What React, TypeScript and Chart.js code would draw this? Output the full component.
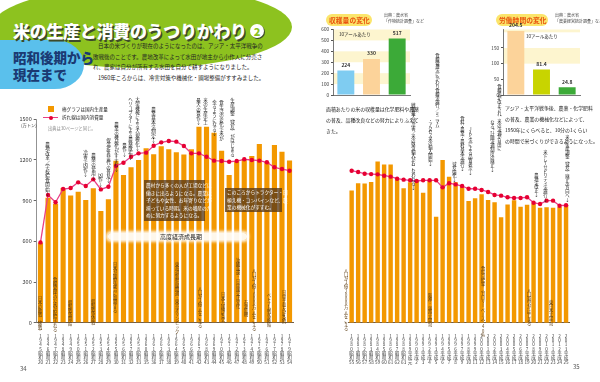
import React, { useEffect, useRef } from "react";
import { Chart, registerables } from "chart.js";
Chart.register(...registerables);

const JP = "'Noto Sans CJK JP', 'Noto Sans', sans-serif";
Chart.defaults.font.family = JP;

// ---- main chart data (万トン) ----
const leftYears = [1945, 1946, 1947, 1948, 1949, 1950, 1951, 1952, 1953, 1954, 1955, 1956, 1957, 1958, 1960, 1961, 1962, 1963, 1964, 1965, 1966, 1967, 1968, 1969, 1970, 1971, 1972, 1973, 1974, 1975, 1976, 1977, 1978, 1979];
const leftProduction = [587, 921, 877, 993, 938, 966, 905, 991, 824, 910, 1195, 1089, 1146, 1200, 1286, 1243, 1302, 1279, 1257, 1241, 1280, 1445, 1445, 1400, 1268, 1089, 1189, 1206, 1229, 1317, 1183, 1310, 1260, 1196];
const leftConsumption = [592, 942, 888, 986, 993, 1035, 1008, 1057, 983, 1003, 1156, 1180, 1224, 1249, 1254, 1305, 1330, 1340, 1335, 1303, 1249, 1249, 1224, 1195, 1192, 1187, 1192, 1205, 1200, 1195, 1183, 1146, 1133, 1121];

const rightYears = [1980, 1981, 1982, 1983, 1984, 1985, 1986, 1987, 1988, 1989, 1990, 1991, 1992, 1993, 1994, 1995, 1996, 1997, 1998, 1999, 2000, 2001, 2002, 2003, 2004, 2005, 2006, 2007, 2008, 2009, 2010, 2011, 2012, 2013];
const rightProduction = [975, 1028, 1027, 1037, 1188, 1167, 1166, 1058, 992, 1035, 1045, 959, 1054, 782, 1199, 1076, 1035, 1006, 897, 917, 947, 905, 889, 778, 871, 903, 855, 869, 881, 847, 852, 848, 856, 864];
const rightConsumption = [1121, 1111, 1099, 1096, 1094, 1084, 1077, 1062, 1055, 1050, 1045, 1050, 1050, 1050, 998, 1028, 1020, 1008, 988, 988, 979, 964, 942, 937, 925, 920, 920, 925, 885, 875, 900, 900, 863, 866];

const yTicks = [0, 300, 600, 900, 1200, 1500];

// ---- small charts ----
const yieldLabels = ["1960", "1990", "2014年"];
const yieldValues = [224, 330, 517];
const yieldColors = ["#7fccf1", "#fcd39a", "#3caa38"];
const laborLabels = ["1950", "1975", "2014年"];
const laborValues = [204.5, 81.4, 24.8];
const laborColors = ["#fcd39a", "#c8d400", "#3caa38"];

const era = (y: number) => {
  if (y >= 1990) return ["平", "成", String(y - 1988)];
  if (y === 1989) return ["平", "成", "元"];
  return ["昭", "和", String(y - 1925)];
};
const tickLabel = (y: number) => [...String(y).split(""), ...era(y)];

const BAR = "#f39800";
const LINE = "#ea3f86";
const DOT = "#e60033";

function mainConfig(years: number[], prod: number[], cons: number[], showY: boolean, padL: number, padR: number): any {
  return {
    type: "bar",
    data: {
      labels: years.map(tickLabel),
      datasets: [
        { type: "line", data: cons, borderColor: LINE, borderWidth: 1.3, pointRadius: 2.2, pointBackgroundColor: DOT, pointBorderWidth: 0, order: 0, tension: 0 },
        { type: "bar", data: prod, backgroundColor: BAR, barPercentage: 0.68, categoryPercentage: 1, order: 1 },
      ],
    },
    options: {
      animation: false,
      responsive: false,
      maintainAspectRatio: false,
      layout: { padding: { top: 119.3, left: padL, right: padR, bottom: 0 } },
      plugins: { legend: { display: false }, tooltip: { enabled: false } },
      scales: {
        x: {
          grid: { display: false },
          border: { display: true, color: "#6e5c48", width: 1 },
          ticks: { autoSkip: false, maxRotation: 0, minRotation: 0, padding: 3, color: "#444", font: { size: 4.6, lineHeight: 0.95 } },
          afterFit: (s: any) => { s.height = 59.3; },
        },
        y: {
          display: showY,
          min: 0,
          max: 1500,
          afterBuildTicks: (s: any) => { s.ticks = yTicks.map((v) => ({ value: v })); },
          ticks: { color: "#333", font: { size: 5.5 }, padding: 2, callback: (v: any) => String(v) },
          grid: { drawOnChartArea: false, drawTicks: true, tickLength: 3, color: "#666" },
          border: { display: true, color: "#777", width: 0.8 },
          afterFit: (s: any) => { s.width = 36.7; },
        },
      },
    },
  };
}

const smallPlugin = {
  id: "smallDeco",
  beforeDraw(chart: any, _a: any, opts: any) {
    const { ctx, chartArea, scales } = chart;
    const y = scales.y;
    ctx.save();
    ctx.fillStyle = "#fdf5cf";
    (opts.bands || []).forEach(([a, b]: number[]) => {
      const top = y.getPixelForValue(b);
      const bot = y.getPixelForValue(a);
      ctx.fillRect(chartArea.left, top, chartArea.right - chartArea.left, bot - top);
    });
    ctx.restore();
  },
  afterDatasetsDraw(chart: any) {
    const { ctx } = chart;
    const meta = chart.getDatasetMeta(0);
    ctx.save();
    ctx.fillStyle = "#333";
    ctx.font = `bold 5px ${JP}`;
    ctx.textAlign = "center";
    ctx.textBaseline = "bottom";
    meta.data.forEach((el: any, i: number) => {
      ctx.fillText(String(chart.data.datasets[0].data[i]), el.x, el.y - 3);
    });
    ctx.restore();
  },
};

function smallConfig(labels: string[], values: number[], colors: string[], max: number, step: number, bands: number[][]): any {
  return {
    type: "bar",
    data: { labels, datasets: [{ data: values, backgroundColor: colors, barPercentage: 0.66, categoryPercentage: 1 }] },
    plugins: [smallPlugin],
    options: {
      animation: false,
      responsive: false,
      maintainAspectRatio: false,
      layout: { padding: { top: 9.5, left: 0, right: 5, bottom: 0 } },
      plugins: { legend: { display: false }, tooltip: { enabled: false }, smallDeco: { bands } },
      scales: {
        x: {
          grid: { display: false },
          border: { display: true, color: "#555", width: 0.8 },
          ticks: { color: "#333", font: { size: 4.6, weight: "bold" }, padding: 2 },
          afterFit: (s: any) => { s.height = 10; },
        },
        y: {
          min: 0,
          max,
          afterBuildTicks: (s: any) => { s.ticks = s.ticks.filter((t: any) => t.value % step === 0); },
          ticks: { stepSize: step, color: "#333", font: { size: 4.6 }, padding: 2, callback: (v: any) => String(v) },
          grid: { drawOnChartArea: false, drawTicks: true, tickLength: 2, color: "#555" },
          border: { display: true, color: "#555", width: 0.8 },
          afterFit: (s: any) => { s.width = 23; },
        },
      },
    },
  };
}

function ChartCanvas({ cfg, style, w, h }: { cfg: () => any; style: React.CSSProperties; w: number; h: number }) {
  const ref = useRef<HTMLCanvasElement | null>(null);
  useEffect(() => {
    if (!ref.current) return;
    const c = new Chart(ref.current, cfg());
    return () => c.destroy();
  }, []);
  return <canvas ref={ref} width={w} height={h} style={{ position: "absolute", width: w, height: h, ...style }} />;
}

const V = ({ x, y, t, s = 4.5, c = "#222", ls = 0 }: { x: number; y: number; t: string; s?: number; c?: string; ls?: number }) => (
  <div style={{ position: "absolute", left: x, top: y, writingMode: "vertical-rl", textOrientation: "upright", fontSize: s, lineHeight: 1, color: c, whiteSpace: "nowrap", fontFamily: JP, letterSpacing: ls }}>{t}</div>
);

const T = ({ x, y, t, s = 5.5, c = "#222", w, bold }: { x: number; y: number; t: string; s?: number; c?: string; w?: number; bold?: boolean }) => (
  <div style={{ position: "absolute", left: x, top: y, fontSize: s, lineHeight: 1, color: c, whiteSpace: "nowrap", fontFamily: JP, fontWeight: bold ? 700 : 400, width: w }}>{t}</div>
);

const topNotesLeft = [
  { x: 45, y: 142, t: "農地改革／学校給食開始↓" },
  { x: 83, y: 150, t: "冷害で凶作↓" },
  { x: 91, y: 153, t: "農薬の使用↓" },
  { x: 98, y: 173, t: "凶作↓" },
  { x: 106, y: 138, t: "保温折衷苗代の普及↓" },
  { x: 114, y: 122, t: "農業の機械化がすすむ↓" },
  { x: 122, y: 143, t: "豊作↓" },
  { x: 135, y: 97, t: "大型機械による大規模化↓" },
  { x: 128, y: 97, t: "ヘリコプターによる農薬散布↓" },
  { x: 151, y: 107, t: "農業基本法制定↓" },
  { x: 203, y: 98, t: "米の生産史上" },
  { x: 196, y: 98, t: "最大の豊作↓" },
  { x: 219, y: 100, t: "食生活の変化で米が" },
  { x: 212, y: 100, t: "余るようになる↓" },
  { x: 230, y: 98, t: "生産調整（減反）がはじまる" },
];
const barNotesLeft = [
  { x: 38, y: 296, t: "日本の敗戦（終戦）" },
  { x: 53, y: 277, t: "食糧管理法で米が配給される" },
  { x: 68, y: 300, t: "朝鮮戦争開始" },
  { x: 91, y: 299, t: "朝鮮戦争休戦" },
  { x: 113, y: 262, t: "日本が国際連合に加盟する" },
  { x: 175, y: 262, t: "東海道新幹線開通・東京オリンピック" },
  { x: 198, y: 286, t: "人口が1億人をこえる" },
  { x: 221, y: 292, t: "日本万国博覧会" },
  { x: 236, y: 258, t: "沖縄返還・日中国交正常化" },
  { x: 244, y: 300, t: "石油危機" },
  { x: 252, y: 268, t: "人口が1億1000万人をこえる" },
  { x: 267, y: 293, t: "ベトナム戦争終結" },
  { x: 282, y: 290, t: "日中平和友好条約" },
];
const topNotesRight = [
  { x: 411, y: 103, t: "戦後最大の冷害／米の緊急輸入がおこなわれる↓" },
  { x: 435, y: 53, t: "食糧管理法にかわり食糧法施行／ミニマム" },
  { x: 428, y: 118, t: "・アクセス米の輸入開始↓" },
  { x: 452, y: 162, t: "減反強化↓" },
  { x: 460, y: 116, t: "食料・農業・農村基本法施行↓" },
  { x: 468, y: 127, t: "JAS法による品質表示↓" },
  { x: 497, y: 84, t: "食糧法が改正され、米の流通が自由に" },
  { x: 490, y: 120, t: "なる。計画流通制度の廃止↓" },
  { x: 534, y: 173, t: "農地法改正↓" },
  { x: 543, y: 150, t: "米トレーサビリティ法施行↓" },
  { x: 565, y: 135, t: "米の生産調整（減反）廃止の方向へ↓" },
];
const barNotesRight = [
  { x: 344, y: 268, t: "人口が1億2000万人をこえる" },
  { x: 428, y: 293, t: "阪神・淡路大震災" },
  { x: 481, y: 266, t: "食料自給率（カロリーベース）40%" },
  { x: 527, y: 288, t: "人口減少がはじまる" },
  { x: 549, y: 300, t: "東日本大震災" },
];

export default function App() {
  return (
    <div style={{ position: "absolute", left: 0, top: 0, width: 600, height: 382, overflow: "hidden", background: "#fff", fontFamily: JP }}>
      {/* green banner */}
      <div style={{ position: "absolute", left: -8, top: -14, width: 300, height: 82, borderRadius: "50%", background: "#8dc21f" }} />
      <div style={{ position: "absolute", left: -10, top: 40, width: 94, height: 49, borderRadius: "0 30px 30px 0 / 0 25px 25px 0", background: "#5ac0ec" }} />
      <div style={{ position: "absolute", left: 13, top: 18, fontSize: 17, fontWeight: 900, color: "#fff", whiteSpace: "nowrap", letterSpacing: -0.3, textShadow: "1.5px 1.5px 0 #3d4a2a" }}>米の生産と消費のうつりかわり</div>
      <div style={{ position: "absolute", left: 250, top: 24, width: 14, height: 14, borderRadius: "50%", background: "#fff", color: "#8dc21f", fontSize: 11, fontWeight: 900, textAlign: "center", lineHeight: "14px", boxShadow: "1px 1px 0 #3d4a2a" }}>2</div>
      <div style={{ position: "absolute", left: 13, top: 49, fontSize: 13.5, fontWeight: 900, color: "#1b3a73", whiteSpace: "nowrap", lineHeight: "17px" }}>昭和後期から<br />現在まで</div>
      <T x={98} y={44} s={5.5} t="日本の米づくりが現在のようになったのは、アジア・太平洋戦争の" />
      <T x={93} y={55} s={5.5} t="敗戦後のことです。農地改革によって水田が地主から小作人に分売さ" />
      <T x={93} y={65} s={5.5} t="れ、農家は自分が所有する水田を自分で耕すようになりました。" />
      <T x={98} y={76} s={5.5} t="1960年ころからは、冷害対策や機械化・圃場整備がすすみました。" />

      {/* main charts */}
      <ChartCanvas w={300} h={382} style={{ left: 0, top: 0 }} cfg={() => mainConfig(leftYears, leftProduction, leftConsumption, true, 0, 6.7)} />
      <ChartCanvas w={300} h={382} style={{ left: 300, top: 0 }} cfg={() => mainConfig(rightYears, rightProduction, rightConsumption, false, 11.7, 30.7)} />

      {/* legend */}
      <div style={{ position: "absolute", left: 48, top: 106, width: 6, height: 6, background: BAR }} />
      <T x={62} y={107} s={4.6} t="棒グラフは国内生産量" />
      <div style={{ position: "absolute", left: 43, top: 117, width: 15, height: 1.3, background: LINE }} />
      <div style={{ position: "absolute", left: 48.5, top: 115.6, width: 4, height: 4, borderRadius: "50%", background: DOT }} />
      <T x={62} y={115} s={4.6} t="折れ線は国内消費量" />
      <T x={48} y={126} s={4.3} c="#888" t="出典は30ページと同じ。" />
      <T x={21} y={123} s={4.3} c="#333" t="(万トン)" />

      {topNotesLeft.map((n, i) => <V key={"tl" + i} {...n} />)}
      {barNotesLeft.map((n, i) => <V key={"bl" + i} {...n} s={4.2} c="#5a3a10" />)}
      {topNotesRight.map((n, i) => <V key={"tr" + i} {...n} s={4.3} ls={-0.4} />)}
      {barNotesRight.map((n, i) => <V key={"br" + i} {...n} s={4.2} c="#5a3a10" />)}

      {/* boxes */}
      <div style={{ position: "absolute", left: 144, top: 180, width: 61, height: 41, background: "rgba(88,58,24,0.78)", color: "#fff", fontSize: 4.7, lineHeight: "7.6px", padding: "2px 2px", boxSizing: "border-box", whiteSpace: "nowrap" }}>
        農村から多くの人が工場などに<br />働きに出るようになる。農業は<br />子どもや女性、お年寄りなどが<br />担っている時期。米の増産のた<br />めに努力するようになる。
      </div>
      <div style={{ position: "absolute", left: 225, top: 188, width: 57, height: 24, background: "rgba(88,58,24,0.78)", color: "#fff", fontSize: 4.7, lineHeight: "7.6px", padding: "1px 2px", boxSizing: "border-box", whiteSpace: "nowrap" }}>
        このころからトラクター・田<br />植え機・コンバインなど、農<br />業の機械化がすすむ。
      </div>
      <div style={{ position: "absolute", left: 108, top: 233, width: 139, height: 7, background: "rgba(255,255,255,0.92)", boxShadow: "0 0 3px 2px rgba(255,255,255,0.9)", borderRadius: 3 }} />
      <T x={160} y={233.5} s={6} c="#222" t="高度経済成長期" />

      {/* small chart 1 */}
      <div style={{ position: "absolute", left: 326, top: 14, width: 46, height: 12, borderRadius: 6, background: "#fbe56b" }} />
      <T x={329} y={16.5} s={6.8} c="#e8540f" bold t="収穫量の変化" />
      <T x={384} y={13} s={4} c="#444" t="出典：農水省" />
      <T x={384} y={19} s={4} c="#444" t="「作物統計調査」など" />
      <ChartCanvas w={105} h={85} style={{ left: 310, top: 20 }} cfg={() => smallConfig(yieldLabels, yieldValues, yieldColors, 600, 100, [[100, 200], [300, 400], [500, 600]])} />
      <T x={339} y={32} s={4.5} t="10アールあたり" />
      <T x={326} y={107} s={4.9} t="面積あたりの米の収穫量は化学肥料や農薬" />
      <T x={326} y={118} s={4.9} t="の普及、品種改良などの努力によりふえて" />
      <T x={326} y={129} s={4.9} t="きた。" />

      {/* small chart 2 */}
      <div style={{ position: "absolute", left: 496, top: 14, width: 52, height: 12, borderRadius: 6, background: "#fbe56b" }} />
      <T x={499} y={16.5} s={6.8} c="#e8540f" bold t="労働時間の変化" />
      <T x={555} y={13} s={4} c="#444" t="出典：農水省" />
      <T x={555} y={19} s={4} c="#444" t="「農業経営統計調査」など" />
      <ChartCanvas w={105} h={85} style={{ left: 480, top: 20 }} cfg={() => smallConfig(laborLabels, laborValues, laborColors, 209, 50, [[200, 209], [100, 150]])} />
      <T x={526} y={34} s={4.5} t="10アールあたり" />
      <T x={505} y={106} s={4.9} t="アジア・太平洋戦争後、農薬・化学肥料" />
      <T x={505} y={117} s={4.9} t="の普及、農業の機械化などによって、" />
      <T x={505} y={128} s={4.9} t="1950年にくらべると、10分の1くらい" />
      <T x={505} y={139} s={4.9} t="の時間で米づくりができるようになった。" />

      <T x={20} y={366} s={6} c="#555" t="34" />
      <T x={573} y={364} s={6} c="#555" t="35" />
    </div>
  );
}
